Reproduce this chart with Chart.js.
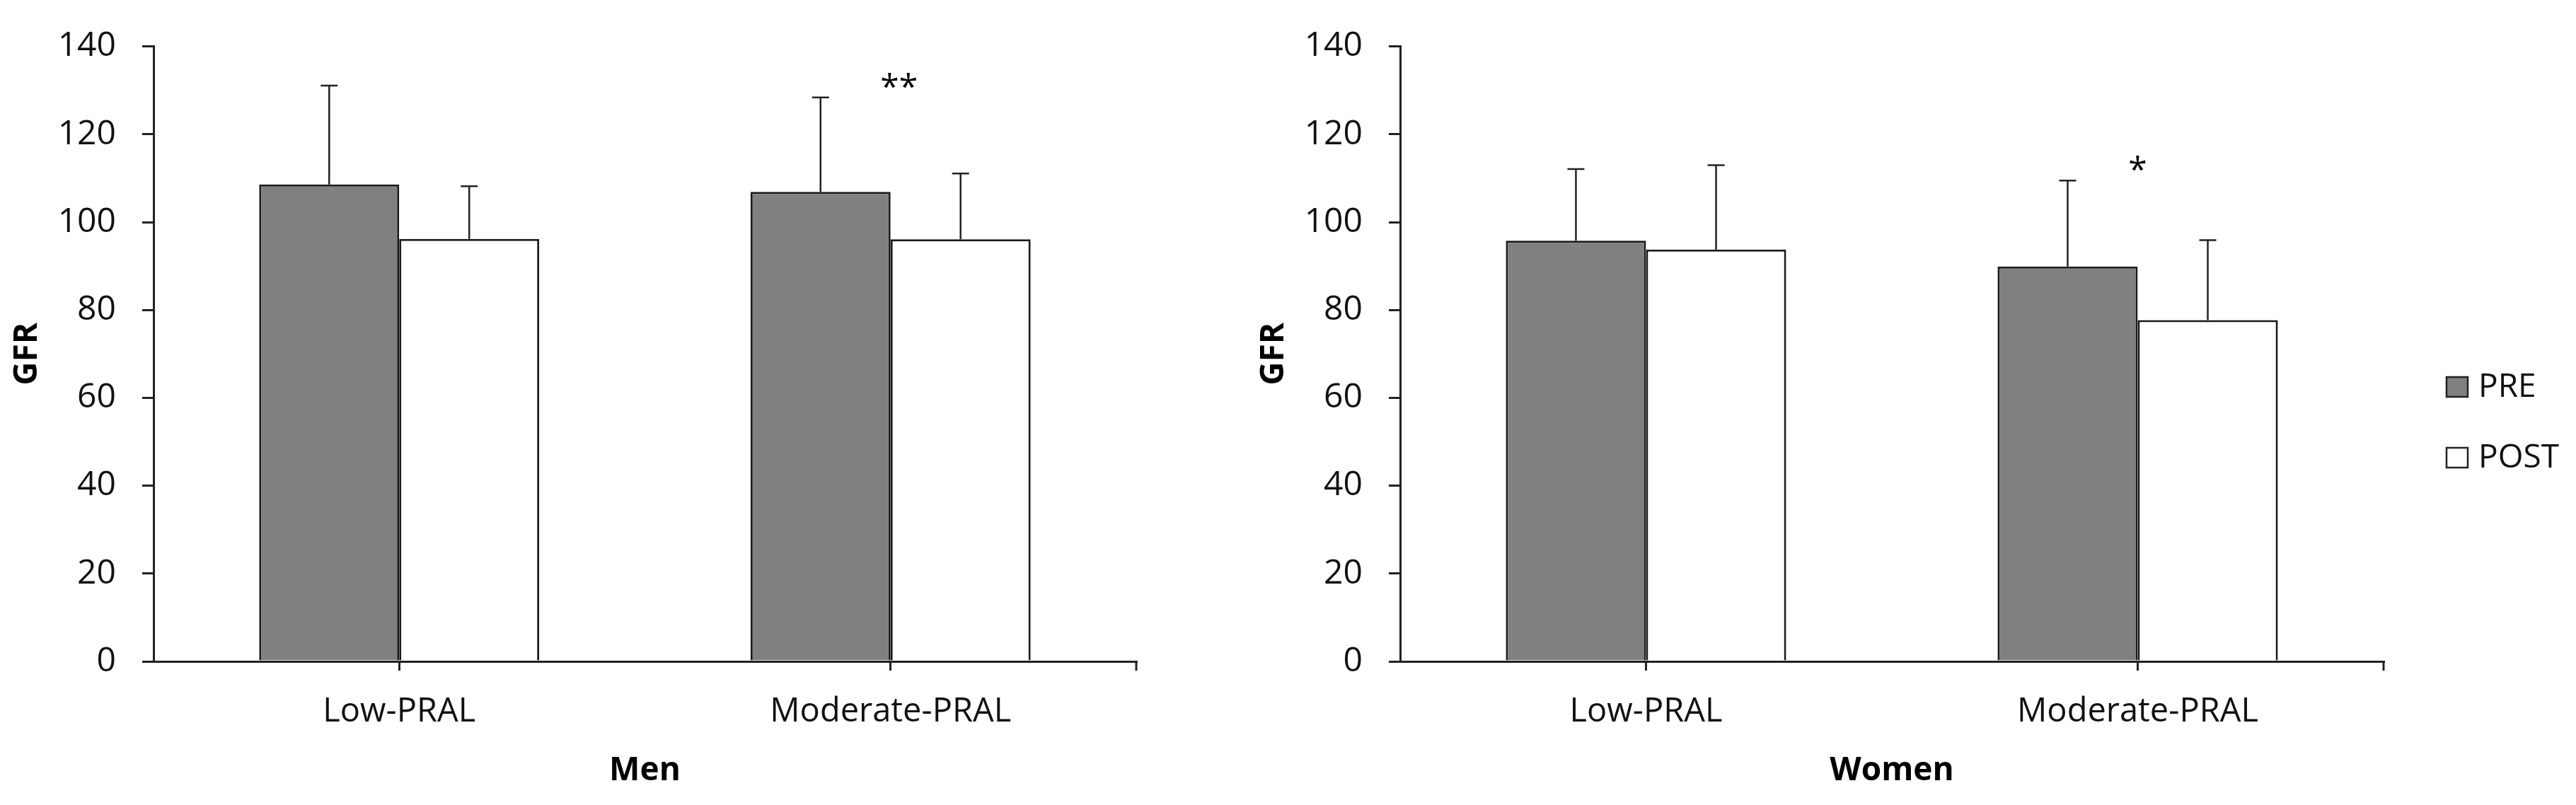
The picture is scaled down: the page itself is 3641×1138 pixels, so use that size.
<!DOCTYPE html>
<html lang="en">
<head>
  <meta charset="UTF-8" />
  <title>GFR before and after, by PRAL group</title>
  <script src="https://cdn.jsdelivr.net/npm/chart.js"></script>
  <style>
    html, body { margin: 0; padding: 0; background: #fff; }
    #wrap { position: relative; width: 3641px; height: 1138px; }
    #menChart { position: absolute; left: 0; top: 0; }
    #womenChart { position: absolute; left: 1700px; top: 0; }
  </style>
</head>
<body>

<div id="wrap">
  <canvas id="menChart" width="1700" height="1138"></canvas>
  <canvas id="womenChart" width="1941" height="1138"></canvas>
</div>

<script>
const categories = ['Low-PRAL', 'Moderate-PRAL'];
const seriesNames = ['PRE', 'POST'];

// Men
const menPre = [108.6, 106.9];
const menPreSd = [22.5, 21.5];
const menPost = [96.2, 96.1];
const menPostSd = [12.0, 15.0];
const menSig = ['', '**'];

// Women
const womenPre = [95.8, 89.9];
const womenPreSd = [16.3, 19.6];
const womenPost = [93.8, 77.7];
const womenPostSd = [19.2, 18.2];
const womenSig = ['', '*'];

const yMin = 0;
const yMax = 140;
const yStep = 20;

const FONT = "'Open Sans', sans-serif";
const INK = '#1a1a1a';
const preColor = '#808080';
const postColor = '#ffffff';

// upward error bars (mean + SD) on every bar
const errorBars = {
  id: 'errorBars',
  afterDatasetsDraw(chart) {
    const ctx = chart.ctx;
    const y = chart.scales.y;
    ctx.save();
    ctx.strokeStyle = '#222';
    ctx.lineWidth = 2.5;
    chart.data.datasets.forEach((ds, i) => {
      const meta = chart.getDatasetMeta(i);
      meta.data.forEach((bar, j) => {
        const top = y.getPixelForValue(ds.data[j] + ds.sd[j]);
        ctx.beginPath();
        ctx.moveTo(bar.x, bar.y);
        ctx.lineTo(bar.x, top);
        ctx.moveTo(bar.x - 12, top);
        ctx.lineTo(bar.x + 12, top);
        ctx.stroke();
      });
    });
    ctx.restore();
  }
};

// significance stars, the end tick of the x axis, and the side legend
const extras = {
  id: 'extras',
  afterDraw(chart, args, opts) {
    const ctx = chart.ctx;
    const x = chart.scales.x;
    const y = chart.scales.y;
    const area = chart.chartArea;
    ctx.save();

    // closing tick at right end of x axis
    ctx.strokeStyle = '#222';
    ctx.lineWidth = 3;
    ctx.beginPath();
    ctx.moveTo(area.right, area.bottom);
    ctx.lineTo(area.right, area.bottom + 13);
    ctx.stroke();

    // stars
    const pre = chart.data.datasets[0];
    ctx.fillStyle = '#000';
    ctx.font = '48px ' + FONT;
    ctx.textAlign = 'center';
    ctx.textBaseline = 'alphabetic';
    opts.marks.forEach((m, j) => {
      if (!m) return;
      const px = x.getPixelForValue(j) + (opts.markShift || 0);
      const py = y.getPixelForValue(pre.data[j] + pre.sd[j]) + 1;
      ctx.fillText(m, px, py);
    });

    // legend
    if (opts.legend) {
      ctx.font = '46px ' + FONT;
      ctx.textAlign = 'left';
      ctx.textBaseline = 'middle';
      chart.data.datasets.forEach((ds, i) => {
        const cy = opts.legend.y + i * 100;
        ctx.fillStyle = ds.backgroundColor;
        ctx.fillRect(opts.legend.x, cy - 14, 30, 28);
        ctx.strokeStyle = '#222';
        ctx.lineWidth = 2.5;
        ctx.strokeRect(opts.legend.x, cy - 14, 30, 28);
        ctx.fillStyle = '#111';
        ctx.fillText(ds.label, opts.legend.x + 45, cy + 1);
      });
    }
    ctx.restore();
  }
};

function makeChart(id, pre, preSd, post, postSd, title, sig, markShift, yWidth, padRight, yTitlePad, legend) {
  const ctx = document.getElementById(id).getContext('2d');
  return new Chart(ctx, {
    type: 'bar',
    data: {
      labels: categories,
      datasets: [
        {
          label: seriesNames[0],
          data: pre,
          sd: preSd,
          backgroundColor: preColor,
          borderColor: INK,
          borderWidth: 3,
          categoryPercentage: 0.57,
          barPercentage: 1.0
        },
        {
          label: seriesNames[1],
          data: post,
          sd: postSd,
          backgroundColor: postColor,
          borderColor: INK,
          borderWidth: 3,
          categoryPercentage: 0.57,
          barPercentage: 1.0
        }
      ]
    },
    options: {
      responsive: false,
      animation: false,
      layout: { padding: { left: 0, top: 65, right: padRight, bottom: 0 } },
      plugins: {
        legend: { display: false },
        tooltip: { enabled: false },
        extras: { marks: sig, markShift: markShift, legend: legend }
      },
      scales: {
        x: {
          ticks: { padding: 30, color: '#111', font: { family: FONT, size: 47 } },
          grid: { offset: false, drawOnChartArea: false, tickLength: 13, color: '#222', lineWidth: 3 },
          border: { display: true, color: '#222', width: 3 },
          title: {
            display: true, text: title, color: '#000',
            font: { family: FONT, size: 46, weight: 'bold' },
            padding: { top: 0, bottom: 21 }
          },
          afterFit: s => { s.height = 203; }
        },
        y: {
          min: yMin,
          max: yMax,
          ticks: { stepSize: yStep, padding: 37, color: '#111', font: { family: FONT, size: 48 } },
          grid: { drawOnChartArea: false, tickLength: 16, color: '#222', lineWidth: 3 },
          border: { display: true, color: '#222', width: 3 },
          title: {
            display: true, text: 'GFR', color: '#000',
            font: { family: FONT, size: 46, weight: 'bold' },
            padding: { top: yTitlePad, bottom: 0 }
          },
          afterFit: s => { s.width = yWidth; }
        }
      }
    },
    plugins: [errorBars, extras]
  });
}

window.onload = async () => {
  try {
    await document.fonts.load("48px 'Open Sans'");
    await document.fonts.load("bold 46px 'Open Sans'");
  } catch (e) {}

  makeChart('menChart', menPre, menPreSd, menPost, menPostSd, 'Men', menSig, 12, 217, 94, 11, null);
  makeChart('womenChart', womenPre, womenPreSd, womenPost, womenPostSd, 'Women', womenSig, 0, 279, 272, 73,
    { x: 1758, y: 547 });
};
</script>

</body>
</html>
